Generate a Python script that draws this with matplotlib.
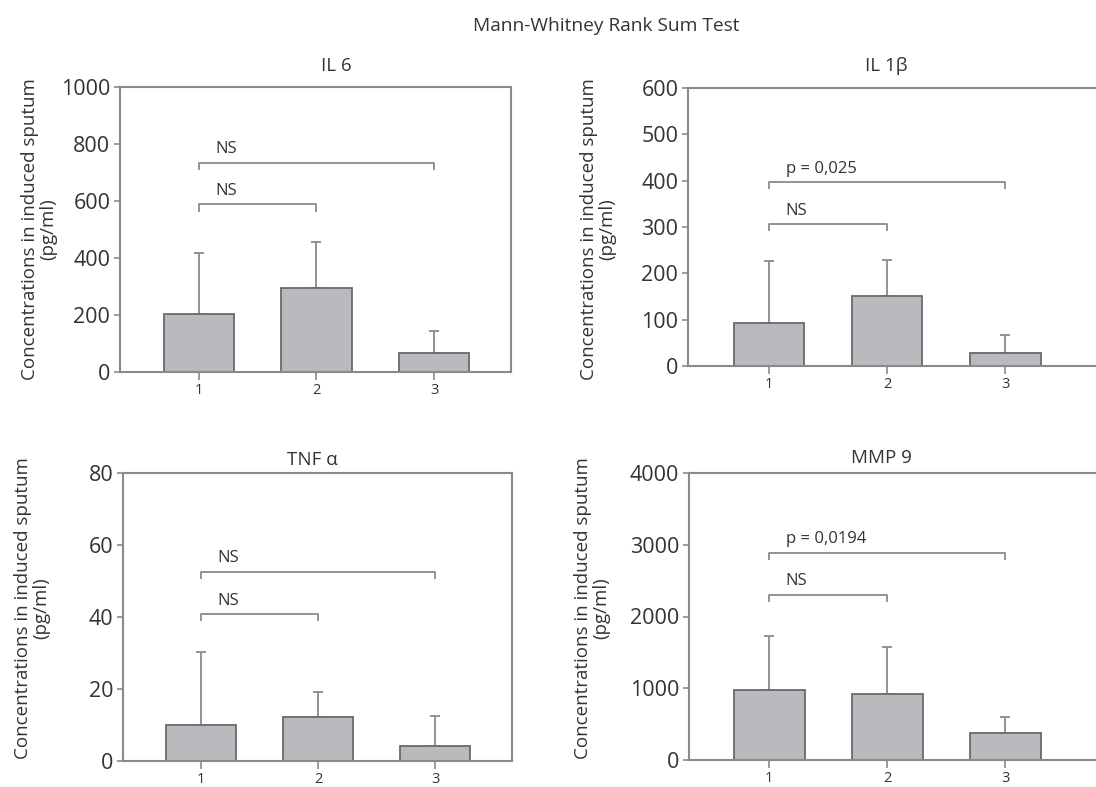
import matplotlib
matplotlib.use("Agg")
import matplotlib.pyplot as plt
import numpy as np

plt.rcParams['font.family'] = ['Open Sans', 'DejaVu Sans']

groups = [1, 2, 3]
titles = ["IL 6", "IL 1\u03b2", "TNF \u03b1", "MMP 9"]

il6_mean = [202, 295, 68]
il6_err = [215, 161, 75]
il1b_mean = [92, 151, 27]
il1b_err = [134, 77, 39]
tnf_mean = [9.9, 12.2, 4.2]
tnf_err = [20.4, 6.9, 8.4]
mmp9_mean = [974, 914, 371]
mmp9_err = [752, 664, 232]

y_max = [1000, 600, 80, 4000]
y_step = [200, 100, 20, 1000]

# brackets: (label, x_end, y_level)
il6_brackets = [("NS", 3, 734), ("NS", 2, 588)]
il1b_brackets = [("p = 0,025", 3, 397), ("NS", 2, 306)]
tnf_brackets = [("NS", 3, 52.5), ("NS", 2, 40.8)]
mmp9_brackets = [("p = 0,0194", 3, 2886), ("NS", 2, 2302)]

means = [il6_mean, il1b_mean, tnf_mean, mmp9_mean]
errs = [il6_err, il1b_err, tnf_err, mmp9_err]
brackets = [il6_brackets, il1b_brackets, tnf_brackets, mmp9_brackets]

W, H = 1096, 787
fig = plt.figure(figsize=(W / 100, H / 100), dpi=100)

# axes boxes in pixels: left, right, top, bottom
boxes = [(120, 511, 87, 372), (688, 1096, 88, 366),
         (123, 512, 473, 761), (689, 1096, 473, 760)]
xlims = [(0.328, 3.655), (0.314, 3.77), (0.333, 3.658), (0.32, 3.77)]
title_pos = [(336, 66), (886, 66), (312, 460), (881, 458)]
ylab_pos = [(39, 229), (598, 229), (32, 608), (592, 608)]

spine_c = "#8a8a8a"
text_c = "#333333"
bar_c = "#b9babe"
bar_edge = "#6a6a6a"

for i in range(4):
    l, r, t, b = boxes[i]
    ax = fig.add_axes([l / W, 1 - b / H, (r - l) / W, (b - t) / H])
    ax.bar(groups, means[i], width=0.6, color=bar_c, edgecolor=bar_edge,
           linewidth=1.3, zorder=2)
    ax.errorbar(groups, means[i], yerr=[np.zeros(3), errs[i]], fmt='none',
                ecolor=spine_c, elinewidth=1.3, capsize=3.5, capthick=1.3, zorder=1)
    ax.set_xlim(*xlims[i])
    ax.set_ylim(0, y_max[i])
    ax.set_yticks(np.arange(0, y_max[i] + 1, y_step[i]))
    ax.set_xticks(groups)
    ax.tick_params(axis='y', labelsize=15.5, colors=spine_c, labelcolor=text_c,
                   length=4, width=1.2, pad=3)
    ax.tick_params(axis='x', labelsize=10.5, colors=spine_c, labelcolor=text_c,
                   length=6, width=1.2, pad=2)
    for s in ax.spines.values():
        s.set_color(spine_c)
        s.set_linewidth(1.5)
    if i in (1, 3):
        ax.spines['right'].set_visible(False)
    dy = y_max[i] * 0.025
    for lab, xe, yl in brackets[i]:
        ax.plot([1, 1, xe, xe], [yl - dy, yl, yl, yl - dy], color=spine_c,
                lw=1.3, solid_capstyle='butt')
        ax.annotate(lab, xy=(1.14, yl), xytext=(0, 4), textcoords='offset points',
                    ha='left', va='bottom', fontsize=12, color=text_c)
    tx, ty = title_pos[i]
    fig.text(tx / W, 1 - ty / H, titles[i], ha='center', va='center',
             fontsize=13.5, color=text_c)
    lx, ly = ylab_pos[i]
    fig.text(lx / W, 1 - ly / H, "Concentrations in induced sputum\n(pg/ml)",
             rotation=90, ha='center', va='center', multialignment='center',
             fontsize=13.5, color=text_c, linespacing=1.0)

fig.text(606 / W, 1 - 26 / H, "Mann-Whitney Rank Sum Test", ha='center',
         va='center', fontsize=13.8, color=text_c)

fig.savefig("out.png", dpi=100, facecolor='white')
